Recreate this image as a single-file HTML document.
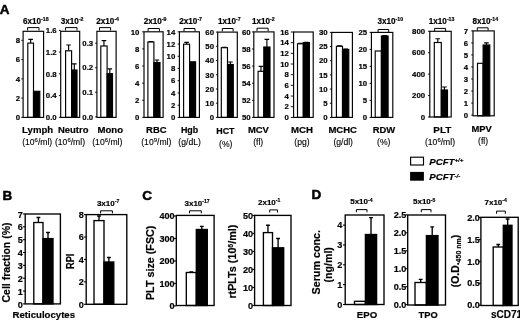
<!DOCTYPE html><html><head><meta charset="utf-8"><style>html,body{margin:0;padding:0;background:#fff;overflow:hidden}svg{display:block;will-change:transform}</style></head><body>
<svg width="520" height="320" viewBox="0 0 520 320" font-family="Liberation Sans, sans-serif" fill="#000">
<rect width="520" height="320" fill="#fff"/>
<path d="M30.65 43.1V39.4M28.35 39.4H32.95" stroke="#000" stroke-width="1.15" fill="none"/>
<rect x="27.8" y="43.1" width="5.70" height="74.30" fill="#fff" stroke="#000" stroke-width="1.15"/>
<rect x="33.5" y="91.3" width="6.30" height="26.10" fill="#000" stroke="#000" stroke-width="1.15"/>
<rect x="23.1" y="31.3" width="20.50" height="86.10" fill="none" stroke="#000" stroke-width="1.15"/>
<path d="M21.30 117.40H23.1" stroke="#000" stroke-width="0.92"/>
<text x="20.00" y="120.15" font-size="7.8" font-weight="bold" text-anchor="end" stroke="#000" stroke-width="0.18" >0</text>
<path d="M21.30 98.12H23.1" stroke="#000" stroke-width="0.92"/>
<text x="20.00" y="100.88" font-size="7.8" font-weight="bold" text-anchor="end" stroke="#000" stroke-width="0.18" >2</text>
<path d="M21.30 78.85H23.1" stroke="#000" stroke-width="0.92"/>
<text x="20.00" y="81.60" font-size="7.8" font-weight="bold" text-anchor="end" stroke="#000" stroke-width="0.18" >4</text>
<path d="M21.30 59.58H23.1" stroke="#000" stroke-width="0.92"/>
<text x="20.00" y="62.33" font-size="7.8" font-weight="bold" text-anchor="end" stroke="#000" stroke-width="0.18" >6</text>
<path d="M21.30 40.30H23.1" stroke="#000" stroke-width="0.92"/>
<text x="20.00" y="43.05" font-size="7.8" font-weight="bold" text-anchor="end" stroke="#000" stroke-width="0.18" >8</text>
<path d="M68.60 50.8V45M66.30 45H70.90" stroke="#000" stroke-width="1.15" fill="none"/>
<rect x="65.6" y="50.8" width="6.00" height="66.60" fill="#fff" stroke="#000" stroke-width="1.15"/>
<path d="M74.30 70V63.8M72.00 63.8H76.60" stroke="#000" stroke-width="1.15" fill="none"/>
<rect x="71.6" y="70" width="5.40" height="47.40" fill="#000" stroke="#000" stroke-width="1.15"/>
<rect x="60.7" y="31.3" width="19.00" height="86.10" fill="none" stroke="#000" stroke-width="1.15"/>
<path d="M58.90 117.30H60.7" stroke="#000" stroke-width="0.92"/>
<text x="56.70" y="120.05" font-size="7.8" font-weight="bold" text-anchor="end" stroke="#000" stroke-width="0.18" >0.0</text>
<path d="M58.90 95.57H60.7" stroke="#000" stroke-width="0.92"/>
<text x="56.70" y="98.32" font-size="7.8" font-weight="bold" text-anchor="end" stroke="#000" stroke-width="0.18" >0.4</text>
<path d="M58.90 73.85H60.7" stroke="#000" stroke-width="0.92"/>
<text x="56.70" y="76.60" font-size="7.8" font-weight="bold" text-anchor="end" stroke="#000" stroke-width="0.18" >0.8</text>
<path d="M58.90 52.12H60.7" stroke="#000" stroke-width="0.92"/>
<text x="56.70" y="54.88" font-size="7.8" font-weight="bold" text-anchor="end" stroke="#000" stroke-width="0.18" >1.2</text>
<path d="M58.90 30.40H60.7" stroke="#000" stroke-width="0.92"/>
<text x="56.70" y="33.15" font-size="7.8" font-weight="bold" text-anchor="end" stroke="#000" stroke-width="0.18" >1.6</text>
<path d="M103.95 46V40.6M101.65 40.6H106.25" stroke="#000" stroke-width="1.15" fill="none"/>
<rect x="100.8" y="46" width="6.30" height="71.40" fill="#fff" stroke="#000" stroke-width="1.15"/>
<path d="M109.80 73.7V68.8M107.50 68.8H112.10" stroke="#000" stroke-width="1.15" fill="none"/>
<rect x="107.1" y="73.7" width="5.40" height="43.70" fill="#000" stroke="#000" stroke-width="1.15"/>
<rect x="96.9" y="31.3" width="19.20" height="86.10" fill="none" stroke="#000" stroke-width="1.15"/>
<path d="M95.10 116.80H96.9" stroke="#000" stroke-width="0.92"/>
<text x="93.20" y="119.55" font-size="7.8" font-weight="bold" text-anchor="end" stroke="#000" stroke-width="0.18" >0.0</text>
<path d="M95.10 92.27H96.9" stroke="#000" stroke-width="0.92"/>
<text x="93.20" y="95.02" font-size="7.8" font-weight="bold" text-anchor="end" stroke="#000" stroke-width="0.18" >0.1</text>
<path d="M95.10 67.73H96.9" stroke="#000" stroke-width="0.92"/>
<text x="93.20" y="70.48" font-size="7.8" font-weight="bold" text-anchor="end" stroke="#000" stroke-width="0.18" >0.2</text>
<path d="M95.10 43.20H96.9" stroke="#000" stroke-width="0.92"/>
<text x="93.20" y="45.95" font-size="7.8" font-weight="bold" text-anchor="end" stroke="#000" stroke-width="0.18" >0.3</text>
<path d="M150.90 42V41.6M148.60 41.6H153.20" stroke="#000" stroke-width="1.15" fill="none"/>
<rect x="147.9" y="42" width="6.00" height="75.40" fill="#fff" stroke="#000" stroke-width="1.15"/>
<path d="M156.95 62.5V60M154.65 60H159.25" stroke="#000" stroke-width="1.15" fill="none"/>
<rect x="153.9" y="62.5" width="6.10" height="54.90" fill="#000" stroke="#000" stroke-width="1.15"/>
<rect x="144" y="31.8" width="19.10" height="85.60" fill="none" stroke="#000" stroke-width="1.15"/>
<path d="M142.20 117.40H144" stroke="#000" stroke-width="0.92"/>
<text x="139.40" y="120.15" font-size="7.8" font-weight="bold" text-anchor="end" stroke="#000" stroke-width="0.18" >0</text>
<path d="M142.20 100.28H144" stroke="#000" stroke-width="0.92"/>
<text x="139.40" y="103.03" font-size="7.8" font-weight="bold" text-anchor="end" stroke="#000" stroke-width="0.18" >2</text>
<path d="M142.20 83.16H144" stroke="#000" stroke-width="0.92"/>
<text x="139.40" y="85.91" font-size="7.8" font-weight="bold" text-anchor="end" stroke="#000" stroke-width="0.18" >4</text>
<path d="M142.20 66.04H144" stroke="#000" stroke-width="0.92"/>
<text x="139.40" y="68.79" font-size="7.8" font-weight="bold" text-anchor="end" stroke="#000" stroke-width="0.18" >6</text>
<path d="M142.20 48.92H144" stroke="#000" stroke-width="0.92"/>
<text x="139.40" y="51.67" font-size="7.8" font-weight="bold" text-anchor="end" stroke="#000" stroke-width="0.18" >8</text>
<path d="M142.20 31.80H144" stroke="#000" stroke-width="0.92"/>
<text x="139.40" y="34.55" font-size="7.8" font-weight="bold" text-anchor="end" stroke="#000" stroke-width="0.18" >10</text>
<path d="M186.60 44.2V42.3M184.30 42.3H188.90" stroke="#000" stroke-width="1.15" fill="none"/>
<rect x="183.6" y="44.2" width="6.00" height="73.20" fill="#fff" stroke="#000" stroke-width="1.15"/>
<rect x="189.6" y="61.8" width="6.00" height="55.60" fill="#000" stroke="#000" stroke-width="1.15"/>
<rect x="179.4" y="31.8" width="20.00" height="85.60" fill="none" stroke="#000" stroke-width="1.15"/>
<path d="M177.60 117.40H179.4" stroke="#000" stroke-width="0.92"/>
<text x="175.30" y="120.15" font-size="7.8" font-weight="bold" text-anchor="end" stroke="#000" stroke-width="0.18" >0</text>
<path d="M177.60 105.17H179.4" stroke="#000" stroke-width="0.92"/>
<text x="175.30" y="107.92" font-size="7.8" font-weight="bold" text-anchor="end" stroke="#000" stroke-width="0.18" >2</text>
<path d="M177.60 92.94H179.4" stroke="#000" stroke-width="0.92"/>
<text x="175.30" y="95.69" font-size="7.8" font-weight="bold" text-anchor="end" stroke="#000" stroke-width="0.18" >4</text>
<path d="M177.60 80.71H179.4" stroke="#000" stroke-width="0.92"/>
<text x="175.30" y="83.46" font-size="7.8" font-weight="bold" text-anchor="end" stroke="#000" stroke-width="0.18" >6</text>
<path d="M177.60 68.49H179.4" stroke="#000" stroke-width="0.92"/>
<text x="175.30" y="71.24" font-size="7.8" font-weight="bold" text-anchor="end" stroke="#000" stroke-width="0.18" >8</text>
<path d="M177.60 56.26H179.4" stroke="#000" stroke-width="0.92"/>
<text x="175.30" y="59.01" font-size="7.8" font-weight="bold" text-anchor="end" stroke="#000" stroke-width="0.18" >10</text>
<path d="M177.60 44.03H179.4" stroke="#000" stroke-width="0.92"/>
<text x="175.30" y="46.78" font-size="7.8" font-weight="bold" text-anchor="end" stroke="#000" stroke-width="0.18" >12</text>
<path d="M177.60 31.80H179.4" stroke="#000" stroke-width="0.92"/>
<text x="175.30" y="34.55" font-size="7.8" font-weight="bold" text-anchor="end" stroke="#000" stroke-width="0.18" >14</text>
<path d="M224.40 47.7V47.3M222.10 47.3H226.70" stroke="#000" stroke-width="1.15" fill="none"/>
<rect x="221.3" y="47.7" width="6.20" height="69.70" fill="#fff" stroke="#000" stroke-width="1.15"/>
<path d="M230.40 64.5V62M228.10 62H232.70" stroke="#000" stroke-width="1.15" fill="none"/>
<rect x="227.5" y="64.5" width="5.80" height="52.90" fill="#000" stroke="#000" stroke-width="1.15"/>
<rect x="217.7" y="32.1" width="19.60" height="85.30" fill="none" stroke="#000" stroke-width="1.15"/>
<path d="M215.90 117.40H217.7" stroke="#000" stroke-width="0.92"/>
<text x="214.00" y="120.15" font-size="7.8" font-weight="bold" text-anchor="end" stroke="#000" stroke-width="0.18" >0</text>
<path d="M215.90 103.18H217.7" stroke="#000" stroke-width="0.92"/>
<text x="214.00" y="105.93" font-size="7.8" font-weight="bold" text-anchor="end" stroke="#000" stroke-width="0.18" >10</text>
<path d="M215.90 88.97H217.7" stroke="#000" stroke-width="0.92"/>
<text x="214.00" y="91.72" font-size="7.8" font-weight="bold" text-anchor="end" stroke="#000" stroke-width="0.18" >20</text>
<path d="M215.90 74.75H217.7" stroke="#000" stroke-width="0.92"/>
<text x="214.00" y="77.50" font-size="7.8" font-weight="bold" text-anchor="end" stroke="#000" stroke-width="0.18" >30</text>
<path d="M215.90 60.53H217.7" stroke="#000" stroke-width="0.92"/>
<text x="214.00" y="63.28" font-size="7.8" font-weight="bold" text-anchor="end" stroke="#000" stroke-width="0.18" >40</text>
<path d="M215.90 46.32H217.7" stroke="#000" stroke-width="0.92"/>
<text x="214.00" y="49.07" font-size="7.8" font-weight="bold" text-anchor="end" stroke="#000" stroke-width="0.18" >50</text>
<path d="M215.90 32.10H217.7" stroke="#000" stroke-width="0.92"/>
<text x="214.00" y="34.85" font-size="7.8" font-weight="bold" text-anchor="end" stroke="#000" stroke-width="0.18" >60</text>
<path d="M260.95 71.3V66.3M258.65 66.3H263.25" stroke="#000" stroke-width="1.15" fill="none"/>
<rect x="258.1" y="71.3" width="5.70" height="46.10" fill="#fff" stroke="#000" stroke-width="1.15"/>
<path d="M266.90 47V39.4M264.60 39.4H269.20" stroke="#000" stroke-width="1.15" fill="none"/>
<rect x="263.8" y="47" width="6.20" height="70.40" fill="#000" stroke="#000" stroke-width="1.15"/>
<rect x="253.8" y="31.9" width="20.20" height="85.50" fill="none" stroke="#000" stroke-width="1.15"/>
<path d="M252.00 117.40H253.8" stroke="#000" stroke-width="0.92"/>
<text x="250.60" y="120.15" font-size="7.8" font-weight="bold" text-anchor="end" stroke="#000" stroke-width="0.18" >50</text>
<path d="M252.00 100.30H253.8" stroke="#000" stroke-width="0.92"/>
<text x="250.60" y="103.05" font-size="7.8" font-weight="bold" text-anchor="end" stroke="#000" stroke-width="0.18" >52</text>
<path d="M252.00 83.20H253.8" stroke="#000" stroke-width="0.92"/>
<text x="250.60" y="85.95" font-size="7.8" font-weight="bold" text-anchor="end" stroke="#000" stroke-width="0.18" >54</text>
<path d="M252.00 66.10H253.8" stroke="#000" stroke-width="0.92"/>
<text x="250.60" y="68.85" font-size="7.8" font-weight="bold" text-anchor="end" stroke="#000" stroke-width="0.18" >56</text>
<path d="M252.00 49.00H253.8" stroke="#000" stroke-width="0.92"/>
<text x="250.60" y="51.75" font-size="7.8" font-weight="bold" text-anchor="end" stroke="#000" stroke-width="0.18" >58</text>
<path d="M252.00 31.90H253.8" stroke="#000" stroke-width="0.92"/>
<text x="250.60" y="34.65" font-size="7.8" font-weight="bold" text-anchor="end" stroke="#000" stroke-width="0.18" >60</text>
<path d="M300.40 43.8V43.4M298.10 43.4H302.70" stroke="#000" stroke-width="1.15" fill="none"/>
<rect x="297.5" y="43.8" width="5.80" height="73.60" fill="#fff" stroke="#000" stroke-width="1.15"/>
<path d="M306.35 42.6V42.2M304.05 42.2H308.65" stroke="#000" stroke-width="1.15" fill="none"/>
<rect x="303.3" y="42.6" width="6.10" height="74.80" fill="#000" stroke="#000" stroke-width="1.15"/>
<rect x="293.6" y="32" width="19.60" height="85.40" fill="none" stroke="#000" stroke-width="1.15"/>
<path d="M290.80 117.40H293.6" stroke="#000" stroke-width="0.92"/>
<text x="288.90" y="120.15" font-size="7.8" font-weight="bold" text-anchor="end" stroke="#000" stroke-width="0.18" >0</text>
<path d="M290.80 106.73H293.6" stroke="#000" stroke-width="0.92"/>
<text x="288.90" y="109.48" font-size="7.8" font-weight="bold" text-anchor="end" stroke="#000" stroke-width="0.18" >2</text>
<path d="M290.80 96.05H293.6" stroke="#000" stroke-width="0.92"/>
<text x="288.90" y="98.80" font-size="7.8" font-weight="bold" text-anchor="end" stroke="#000" stroke-width="0.18" >4</text>
<path d="M290.80 85.38H293.6" stroke="#000" stroke-width="0.92"/>
<text x="288.90" y="88.12" font-size="7.8" font-weight="bold" text-anchor="end" stroke="#000" stroke-width="0.18" >6</text>
<path d="M290.80 74.70H293.6" stroke="#000" stroke-width="0.92"/>
<text x="288.90" y="77.45" font-size="7.8" font-weight="bold" text-anchor="end" stroke="#000" stroke-width="0.18" >8</text>
<path d="M290.80 64.03H293.6" stroke="#000" stroke-width="0.92"/>
<text x="288.90" y="66.78" font-size="7.8" font-weight="bold" text-anchor="end" stroke="#000" stroke-width="0.18" >10</text>
<path d="M290.80 53.35H293.6" stroke="#000" stroke-width="0.92"/>
<text x="288.90" y="56.10" font-size="7.8" font-weight="bold" text-anchor="end" stroke="#000" stroke-width="0.18" >12</text>
<path d="M290.80 42.67H293.6" stroke="#000" stroke-width="0.92"/>
<text x="288.90" y="45.42" font-size="7.8" font-weight="bold" text-anchor="end" stroke="#000" stroke-width="0.18" >14</text>
<path d="M290.80 32.00H293.6" stroke="#000" stroke-width="0.92"/>
<text x="288.90" y="34.75" font-size="7.8" font-weight="bold" text-anchor="end" stroke="#000" stroke-width="0.18" >16</text>
<path d="M339.45 46.3V45.8M337.15 45.8H341.75" stroke="#000" stroke-width="1.15" fill="none"/>
<rect x="336.4" y="46.3" width="6.10" height="71.10" fill="#fff" stroke="#000" stroke-width="1.15"/>
<path d="M345.65 49.4V49M343.35 49H347.95" stroke="#000" stroke-width="1.15" fill="none"/>
<rect x="342.5" y="49.4" width="6.30" height="68.00" fill="#000" stroke="#000" stroke-width="1.15"/>
<rect x="331.7" y="32.4" width="20.70" height="85.00" fill="none" stroke="#000" stroke-width="1.15"/>
<path d="M329.90 117.40H331.7" stroke="#000" stroke-width="0.92"/>
<text x="327.60" y="120.15" font-size="7.8" font-weight="bold" text-anchor="end" stroke="#000" stroke-width="0.18" >0</text>
<path d="M329.90 103.23H331.7" stroke="#000" stroke-width="0.92"/>
<text x="327.60" y="105.98" font-size="7.8" font-weight="bold" text-anchor="end" stroke="#000" stroke-width="0.18" >5</text>
<path d="M329.90 89.07H331.7" stroke="#000" stroke-width="0.92"/>
<text x="327.60" y="91.82" font-size="7.8" font-weight="bold" text-anchor="end" stroke="#000" stroke-width="0.18" >10</text>
<path d="M329.90 74.90H331.7" stroke="#000" stroke-width="0.92"/>
<text x="327.60" y="77.65" font-size="7.8" font-weight="bold" text-anchor="end" stroke="#000" stroke-width="0.18" >15</text>
<path d="M329.90 60.73H331.7" stroke="#000" stroke-width="0.92"/>
<text x="327.60" y="63.48" font-size="7.8" font-weight="bold" text-anchor="end" stroke="#000" stroke-width="0.18" >20</text>
<path d="M329.90 46.57H331.7" stroke="#000" stroke-width="0.92"/>
<text x="327.60" y="49.32" font-size="7.8" font-weight="bold" text-anchor="end" stroke="#000" stroke-width="0.18" >25</text>
<path d="M329.90 32.40H331.7" stroke="#000" stroke-width="0.92"/>
<text x="327.60" y="35.15" font-size="7.8" font-weight="bold" text-anchor="end" stroke="#000" stroke-width="0.18" >30</text>
<rect x="375.2" y="51" width="6.20" height="66.40" fill="#fff" stroke="#000" stroke-width="1.15"/>
<path d="M384.75 36V35.6M382.45 35.6H387.05" stroke="#000" stroke-width="1.15" fill="none"/>
<rect x="381.4" y="36" width="6.70" height="81.40" fill="#000" stroke="#000" stroke-width="1.15"/>
<rect x="371.4" y="32.4" width="21.40" height="85.00" fill="none" stroke="#000" stroke-width="1.15"/>
<path d="M369.60 117.40H371.4" stroke="#000" stroke-width="0.92"/>
<text x="367.10" y="120.15" font-size="7.8" font-weight="bold" text-anchor="end" stroke="#000" stroke-width="0.18" >0</text>
<path d="M369.60 100.40H371.4" stroke="#000" stroke-width="0.92"/>
<text x="367.10" y="103.15" font-size="7.8" font-weight="bold" text-anchor="end" stroke="#000" stroke-width="0.18" >5</text>
<path d="M369.60 83.40H371.4" stroke="#000" stroke-width="0.92"/>
<text x="367.10" y="86.15" font-size="7.8" font-weight="bold" text-anchor="end" stroke="#000" stroke-width="0.18" >10</text>
<path d="M369.60 66.40H371.4" stroke="#000" stroke-width="0.92"/>
<text x="367.10" y="69.15" font-size="7.8" font-weight="bold" text-anchor="end" stroke="#000" stroke-width="0.18" >15</text>
<path d="M369.60 49.40H371.4" stroke="#000" stroke-width="0.92"/>
<text x="367.10" y="52.15" font-size="7.8" font-weight="bold" text-anchor="end" stroke="#000" stroke-width="0.18" >20</text>
<path d="M369.60 32.40H371.4" stroke="#000" stroke-width="0.92"/>
<text x="367.10" y="35.15" font-size="7.8" font-weight="bold" text-anchor="end" stroke="#000" stroke-width="0.18" >25</text>
<path d="M437.80 42.5V38.7M435.50 38.7H440.10" stroke="#000" stroke-width="1.15" fill="none"/>
<rect x="434.3" y="42.5" width="7.00" height="74.50" fill="#fff" stroke="#000" stroke-width="1.15"/>
<path d="M444.40 90V87M442.10 87H446.70" stroke="#000" stroke-width="1.15" fill="none"/>
<rect x="441.3" y="90" width="6.20" height="27.00" fill="#000" stroke="#000" stroke-width="1.15"/>
<rect x="429.8" y="31.3" width="21.40" height="85.70" fill="none" stroke="#000" stroke-width="1.15"/>
<path d="M428.00 117.00H429.8" stroke="#000" stroke-width="0.92"/>
<text x="425.10" y="119.75" font-size="7.8" font-weight="bold" text-anchor="end" stroke="#000" stroke-width="0.18" >0</text>
<path d="M428.00 95.58H429.8" stroke="#000" stroke-width="0.92"/>
<text x="425.10" y="98.33" font-size="7.8" font-weight="bold" text-anchor="end" stroke="#000" stroke-width="0.18" >200</text>
<path d="M428.00 74.15H429.8" stroke="#000" stroke-width="0.92"/>
<text x="425.10" y="76.90" font-size="7.8" font-weight="bold" text-anchor="end" stroke="#000" stroke-width="0.18" >400</text>
<path d="M428.00 52.72H429.8" stroke="#000" stroke-width="0.92"/>
<text x="425.10" y="55.47" font-size="7.8" font-weight="bold" text-anchor="end" stroke="#000" stroke-width="0.18" >600</text>
<path d="M428.00 31.30H429.8" stroke="#000" stroke-width="0.92"/>
<text x="425.10" y="34.05" font-size="7.8" font-weight="bold" text-anchor="end" stroke="#000" stroke-width="0.18" >800</text>
<rect x="477.5" y="63.3" width="5.60" height="52.50" fill="#fff" stroke="#000" stroke-width="1.15"/>
<path d="M486.45 45V42.9M484.15 42.9H488.75" stroke="#000" stroke-width="1.15" fill="none"/>
<rect x="483.1" y="45" width="6.70" height="70.80" fill="#000" stroke="#000" stroke-width="1.15"/>
<rect x="473" y="30.9" width="21.20" height="84.90" fill="none" stroke="#000" stroke-width="1.15"/>
<path d="M471.20 115.10H473" stroke="#000" stroke-width="0.92"/>
<text x="468.20" y="117.85" font-size="7.8" font-weight="bold" text-anchor="end" stroke="#000" stroke-width="0.18" >0</text>
<path d="M471.20 103.07H473" stroke="#000" stroke-width="0.92"/>
<text x="468.20" y="105.82" font-size="7.8" font-weight="bold" text-anchor="end" stroke="#000" stroke-width="0.18" >1</text>
<path d="M471.20 91.04H473" stroke="#000" stroke-width="0.92"/>
<text x="468.20" y="93.79" font-size="7.8" font-weight="bold" text-anchor="end" stroke="#000" stroke-width="0.18" >2</text>
<path d="M471.20 79.01H473" stroke="#000" stroke-width="0.92"/>
<text x="468.20" y="81.76" font-size="7.8" font-weight="bold" text-anchor="end" stroke="#000" stroke-width="0.18" >3</text>
<path d="M471.20 66.99H473" stroke="#000" stroke-width="0.92"/>
<text x="468.20" y="69.74" font-size="7.8" font-weight="bold" text-anchor="end" stroke="#000" stroke-width="0.18" >4</text>
<path d="M471.20 54.96H473" stroke="#000" stroke-width="0.92"/>
<text x="468.20" y="57.71" font-size="7.8" font-weight="bold" text-anchor="end" stroke="#000" stroke-width="0.18" >5</text>
<path d="M471.20 42.93H473" stroke="#000" stroke-width="0.92"/>
<text x="468.20" y="45.68" font-size="7.8" font-weight="bold" text-anchor="end" stroke="#000" stroke-width="0.18" >6</text>
<path d="M471.20 30.90H473" stroke="#000" stroke-width="0.92"/>
<text x="468.20" y="33.65" font-size="7.8" font-weight="bold" text-anchor="end" stroke="#000" stroke-width="0.18" >7</text>
<text x="23.00" y="23.80" font-size="8.15" font-weight="bold" text-anchor="start" stroke="#000" stroke-width="0.18" >6x10<tspan font-size="5.22" dy="-2.85">-18</tspan></text>
<path d="M27.6 30.5V27.6H39V30.5" stroke="#000" stroke-width="1" fill="none"/>
<text x="60.80" y="23.80" font-size="8.15" font-weight="bold" text-anchor="start" stroke="#000" stroke-width="0.18" >3x10<tspan font-size="5.22" dy="-2.85">-2</tspan></text>
<path d="M65.5 30.5V27.6H77V30.5" stroke="#000" stroke-width="1" fill="none"/>
<text x="96.30" y="23.80" font-size="8.15" font-weight="bold" text-anchor="start" stroke="#000" stroke-width="0.18" >2x10<tspan font-size="5.22" dy="-2.85">-4</tspan></text>
<path d="M99.5 30.5V27.6H110.6V30.5" stroke="#000" stroke-width="1" fill="none"/>
<text x="143.80" y="23.80" font-size="8.15" font-weight="bold" text-anchor="start" stroke="#000" stroke-width="0.18" >2x10<tspan font-size="5.22" dy="-2.85">-9</tspan></text>
<path d="M148.1 31.4V28.5H159.4V31.4" stroke="#000" stroke-width="1" fill="none"/>
<text x="179.30" y="23.80" font-size="8.15" font-weight="bold" text-anchor="start" stroke="#000" stroke-width="0.18" >2x10<tspan font-size="5.22" dy="-2.85">-7</tspan></text>
<path d="M184 31.4V28.5H195V31.4" stroke="#000" stroke-width="1" fill="none"/>
<text x="218.00" y="23.80" font-size="8.15" font-weight="bold" text-anchor="start" stroke="#000" stroke-width="0.18" >1x10<tspan font-size="5.22" dy="-2.85">-7</tspan></text>
<path d="M222.3 31.4V28.5H233.1V31.4" stroke="#000" stroke-width="1" fill="none"/>
<text x="252.00" y="23.80" font-size="8.15" font-weight="bold" text-anchor="start" stroke="#000" stroke-width="0.18" >1x10<tspan font-size="5.22" dy="-2.85">-2</tspan></text>
<path d="M257 31.099999999999998V28.2H268.1V31.099999999999998" stroke="#000" stroke-width="1" fill="none"/>
<text x="377.50" y="23.80" font-size="8.15" font-weight="bold" text-anchor="start" stroke="#000" stroke-width="0.18" >3x10<tspan font-size="5.22" dy="-2.85">-10</tspan></text>
<path d="M378.1 32.4V29.5H388.7V32.4" stroke="#000" stroke-width="1" fill="none"/>
<text x="428.80" y="23.80" font-size="8.15" font-weight="bold" text-anchor="start" stroke="#000" stroke-width="0.18" >1x10<tspan font-size="5.22" dy="-2.85">-13</tspan></text>
<path d="M434.6 31.299999999999997V28.4H445.6V31.299999999999997" stroke="#000" stroke-width="1" fill="none"/>
<text x="472.50" y="23.80" font-size="8.15" font-weight="bold" text-anchor="start" stroke="#000" stroke-width="0.18" >8x10<tspan font-size="5.22" dy="-2.85">-14</tspan></text>
<path d="M477.3 30.7V27.8H488.1V30.7" stroke="#000" stroke-width="1" fill="none"/>
<text x="37.60" y="132.80" font-size="9.4" font-weight="bold" text-anchor="middle" textLength="31" lengthAdjust="spacingAndGlyphs" stroke="#000" stroke-width="0.18" >Lymph</text>
<text x="73.20" y="132.80" font-size="9.4" font-weight="bold" text-anchor="middle" textLength="30.5" lengthAdjust="spacingAndGlyphs" stroke="#000" stroke-width="0.18" >Neutro</text>
<text x="110.30" y="132.80" font-size="9.4" font-weight="bold" text-anchor="middle" textLength="25.5" lengthAdjust="spacingAndGlyphs" stroke="#000" stroke-width="0.18" >Mono</text>
<text x="156.30" y="133.00" font-size="9.4" font-weight="bold" text-anchor="middle" textLength="20.5" lengthAdjust="spacingAndGlyphs" stroke="#000" stroke-width="0.18" >RBC</text>
<text x="189.60" y="133.00" font-size="9.4" font-weight="bold" text-anchor="middle" textLength="17.3" lengthAdjust="spacingAndGlyphs" stroke="#000" stroke-width="0.18" >Hgb</text>
<text x="225.40" y="134.10" font-size="9.4" font-weight="bold" text-anchor="middle" textLength="18.3" lengthAdjust="spacingAndGlyphs" stroke="#000" stroke-width="0.18" >HCT</text>
<text x="258.40" y="133.00" font-size="9.4" font-weight="bold" text-anchor="middle" textLength="21" lengthAdjust="spacingAndGlyphs" stroke="#000" stroke-width="0.18" >MCV</text>
<text x="302.00" y="133.00" font-size="9.4" font-weight="bold" text-anchor="middle" textLength="22" lengthAdjust="spacingAndGlyphs" stroke="#000" stroke-width="0.18" >MCH</text>
<text x="342.70" y="133.00" font-size="9.4" font-weight="bold" text-anchor="middle" textLength="28.6" lengthAdjust="spacingAndGlyphs" stroke="#000" stroke-width="0.18" >MCHC</text>
<text x="384.00" y="133.00" font-size="9.4" font-weight="bold" text-anchor="middle" textLength="22.5" lengthAdjust="spacingAndGlyphs" stroke="#000" stroke-width="0.18" >RDW</text>
<text x="442.30" y="133.00" font-size="9.4" font-weight="bold" text-anchor="middle" textLength="18" lengthAdjust="spacingAndGlyphs" stroke="#000" stroke-width="0.18" >PLT</text>
<text x="481.60" y="132.30" font-size="9.4" font-weight="bold" text-anchor="middle" textLength="20.4" lengthAdjust="spacingAndGlyphs" stroke="#000" stroke-width="0.18" >MPV</text>
<text x="37.20" y="144.90" font-size="8.6" font-weight="normal" text-anchor="middle" stroke="#000" stroke-width="0.12">(10<tspan font-size="6" dy="-2.6">6</tspan><tspan dy="2.6">/ml)</tspan></text>
<text x="70.00" y="144.90" font-size="8.6" font-weight="normal" text-anchor="middle" stroke="#000" stroke-width="0.12">(10<tspan font-size="6" dy="-2.6">6</tspan><tspan dy="2.6">/ml)</tspan></text>
<text x="107.30" y="144.90" font-size="8.6" font-weight="normal" text-anchor="middle" stroke="#000" stroke-width="0.12">(10<tspan font-size="6" dy="-2.6">6</tspan><tspan dy="2.6">/ml)</tspan></text>
<text x="156.30" y="144.90" font-size="8.6" font-weight="normal" text-anchor="middle" stroke="#000" stroke-width="0.12">(10<tspan font-size="6" dy="-2.6">9</tspan><tspan dy="2.6">/ml)</tspan></text>
<text x="189.60" y="144.90" font-size="8.6" font-weight="normal" text-anchor="middle" stroke="#000" stroke-width="0.12">(g/dL)</text>
<text x="225.80" y="146.80" font-size="8.6" font-weight="normal" text-anchor="middle" stroke="#000" stroke-width="0.12">(%)</text>
<text x="258.20" y="144.90" font-size="8.6" font-weight="normal" text-anchor="middle" stroke="#000" stroke-width="0.12">(fl)</text>
<text x="302.00" y="144.90" font-size="8.6" font-weight="normal" text-anchor="middle" stroke="#000" stroke-width="0.12">(pg)</text>
<text x="343.20" y="144.90" font-size="8.6" font-weight="normal" text-anchor="middle" stroke="#000" stroke-width="0.12">(g/dl)</text>
<text x="383.80" y="145.20" font-size="8.6" font-weight="normal" text-anchor="middle" stroke="#000" stroke-width="0.12">(%)</text>
<text x="440.00" y="144.70" font-size="8.6" font-weight="normal" text-anchor="middle" stroke="#000" stroke-width="0.12">(10<tspan font-size="6" dy="-2.6">6</tspan><tspan dy="2.6">/ml)</tspan></text>
<text x="483.10" y="144.30" font-size="8.6" font-weight="normal" text-anchor="middle" stroke="#000" stroke-width="0.12">(fl)</text>
<text x="-0.20" y="14.40" font-size="13.5" font-weight="bold" text-anchor="start" stroke="#000" stroke-width="0.5">A</text>
<text x="2.60" y="200.40" font-size="13.5" font-weight="bold" text-anchor="start" stroke="#000" stroke-width="0.5">B</text>
<text x="142.20" y="199.80" font-size="13.5" font-weight="bold" text-anchor="start" stroke="#000" stroke-width="0.5">C</text>
<text x="311.40" y="198.70" font-size="13.5" font-weight="bold" text-anchor="start" stroke="#000" stroke-width="0.5">D</text>
<rect x="410.6" y="157.2" width="12.9" height="7.8" fill="#fff" stroke="#000" stroke-width="1.15"/>
<rect x="410.1" y="171.9" width="13.8" height="8.8" fill="#000"/>
<text x="429.20" y="164.60" font-size="9.7" font-weight="bold" text-anchor="start" font-style="italic" stroke="#000" stroke-width="0.18" >PCFT<tspan font-size="6.2" dy="-2.4">+/+</tspan></text>
<text x="429.20" y="180.20" font-size="9.7" font-weight="bold" text-anchor="start" font-style="italic" stroke="#000" stroke-width="0.18" >PCFT<tspan font-size="6.2" dy="-2.4">-/-</tspan></text>
<path d="M38.40 222.5V217.5M36.50 217.5H40.30" stroke="#000" stroke-width="1.35" fill="none"/>
<rect x="33.8" y="222.5" width="9.20" height="81.40" fill="#fff" stroke="#000" stroke-width="1.35"/>
<path d="M48.00 238.6V232.5M46.10 232.5H49.90" stroke="#000" stroke-width="1.35" fill="none"/>
<rect x="43" y="238.6" width="10.00" height="65.30" fill="#000" stroke="#000" stroke-width="1.35"/>
<rect x="25.2" y="214" width="35.20" height="89.90" fill="none" stroke="#000" stroke-width="1.35"/>
<path d="M23.00 303.90H25.2" stroke="#000" stroke-width="1.08"/>
<text x="22.90" y="307.50" font-size="9.1" font-weight="bold" text-anchor="end" stroke="#000" stroke-width="0.18" >0</text>
<path d="M23.00 291.06H25.2" stroke="#000" stroke-width="1.08"/>
<text x="22.90" y="294.66" font-size="9.1" font-weight="bold" text-anchor="end" stroke="#000" stroke-width="0.18" >1</text>
<path d="M23.00 278.21H25.2" stroke="#000" stroke-width="1.08"/>
<text x="22.90" y="281.81" font-size="9.1" font-weight="bold" text-anchor="end" stroke="#000" stroke-width="0.18" >2</text>
<path d="M23.00 265.37H25.2" stroke="#000" stroke-width="1.08"/>
<text x="22.90" y="268.97" font-size="9.1" font-weight="bold" text-anchor="end" stroke="#000" stroke-width="0.18" >3</text>
<path d="M23.00 252.53H25.2" stroke="#000" stroke-width="1.08"/>
<text x="22.90" y="256.13" font-size="9.1" font-weight="bold" text-anchor="end" stroke="#000" stroke-width="0.18" >4</text>
<path d="M23.00 239.69H25.2" stroke="#000" stroke-width="1.08"/>
<text x="22.90" y="243.29" font-size="9.1" font-weight="bold" text-anchor="end" stroke="#000" stroke-width="0.18" >5</text>
<path d="M23.00 226.84H25.2" stroke="#000" stroke-width="1.08"/>
<text x="22.90" y="230.44" font-size="9.1" font-weight="bold" text-anchor="end" stroke="#000" stroke-width="0.18" >6</text>
<path d="M23.00 214.00H25.2" stroke="#000" stroke-width="1.08"/>
<text x="22.90" y="217.60" font-size="9.1" font-weight="bold" text-anchor="end" stroke="#000" stroke-width="0.18" >7</text>
<path d="M99.00 220.6V216M97.10 216H100.90" stroke="#000" stroke-width="1.35" fill="none"/>
<rect x="94" y="220.6" width="10.00" height="83.70" fill="#fff" stroke="#000" stroke-width="1.35"/>
<path d="M108.90 262V257.5M107.00 257.5H110.80" stroke="#000" stroke-width="1.35" fill="none"/>
<rect x="104" y="262" width="9.80" height="42.30" fill="#000" stroke="#000" stroke-width="1.35"/>
<rect x="86.2" y="214.6" width="40.60" height="89.70" fill="none" stroke="#000" stroke-width="1.35"/>
<path d="M84.00 304.30H86.2" stroke="#000" stroke-width="1.08"/>
<text x="83.80" y="307.60" font-size="9.1" font-weight="bold" text-anchor="end" stroke="#000" stroke-width="0.18" >0</text>
<path d="M84.00 281.88H86.2" stroke="#000" stroke-width="1.08"/>
<text x="83.80" y="285.18" font-size="9.1" font-weight="bold" text-anchor="end" stroke="#000" stroke-width="0.18" >2</text>
<path d="M84.00 259.45H86.2" stroke="#000" stroke-width="1.08"/>
<text x="83.80" y="262.75" font-size="9.1" font-weight="bold" text-anchor="end" stroke="#000" stroke-width="0.18" >4</text>
<path d="M84.00 237.03H86.2" stroke="#000" stroke-width="1.08"/>
<text x="83.80" y="240.33" font-size="9.1" font-weight="bold" text-anchor="end" stroke="#000" stroke-width="0.18" >6</text>
<path d="M84.00 214.60H86.2" stroke="#000" stroke-width="1.08"/>
<text x="83.80" y="217.90" font-size="9.1" font-weight="bold" text-anchor="end" stroke="#000" stroke-width="0.18" >8</text>
<path d="M191.30 272.5V271.8M189.40 271.8H193.20" stroke="#000" stroke-width="1.35" fill="none"/>
<rect x="186.3" y="272.5" width="10.00" height="33.00" fill="#fff" stroke="#000" stroke-width="1.35"/>
<path d="M201.80 229.5V226.3M199.90 226.3H203.70" stroke="#000" stroke-width="1.35" fill="none"/>
<rect x="196.3" y="229.5" width="11.00" height="76.00" fill="#000" stroke="#000" stroke-width="1.35"/>
<rect x="176.3" y="215.4" width="37.80" height="90.10" fill="none" stroke="#000" stroke-width="1.35"/>
<path d="M174.10 305.90H176.3" stroke="#000" stroke-width="1.08"/>
<text x="174.60" y="309.20" font-size="9.1" font-weight="bold" text-anchor="end" stroke="#000" stroke-width="0.18" >0</text>
<path d="M174.10 283.42H176.3" stroke="#000" stroke-width="1.08"/>
<text x="174.60" y="286.72" font-size="9.1" font-weight="bold" text-anchor="end" stroke="#000" stroke-width="0.18" >100</text>
<path d="M174.10 260.95H176.3" stroke="#000" stroke-width="1.08"/>
<text x="174.60" y="264.25" font-size="9.1" font-weight="bold" text-anchor="end" stroke="#000" stroke-width="0.18" >200</text>
<path d="M174.10 238.47H176.3" stroke="#000" stroke-width="1.08"/>
<text x="174.60" y="241.78" font-size="9.1" font-weight="bold" text-anchor="end" stroke="#000" stroke-width="0.18" >300</text>
<path d="M174.10 216.00H176.3" stroke="#000" stroke-width="1.08"/>
<text x="174.60" y="219.30" font-size="9.1" font-weight="bold" text-anchor="end" stroke="#000" stroke-width="0.18" >400</text>
<path d="M267.95 232.6V225.2M266.05 225.2H269.85" stroke="#000" stroke-width="1.35" fill="none"/>
<rect x="263.4" y="232.6" width="9.10" height="72.90" fill="#fff" stroke="#000" stroke-width="1.35"/>
<path d="M278.10 247.8V238.5M276.20 238.5H280.00" stroke="#000" stroke-width="1.35" fill="none"/>
<rect x="272.5" y="247.8" width="11.20" height="57.70" fill="#000" stroke="#000" stroke-width="1.35"/>
<rect x="254.6" y="215.4" width="36.40" height="90.10" fill="none" stroke="#000" stroke-width="1.35"/>
<path d="M252.40 305.50H254.6" stroke="#000" stroke-width="1.08"/>
<text x="253.00" y="308.80" font-size="9.1" font-weight="bold" text-anchor="end" stroke="#000" stroke-width="0.18" >0</text>
<path d="M252.40 287.48H254.6" stroke="#000" stroke-width="1.08"/>
<text x="253.00" y="290.78" font-size="9.1" font-weight="bold" text-anchor="end" stroke="#000" stroke-width="0.18" >10</text>
<path d="M252.40 269.46H254.6" stroke="#000" stroke-width="1.08"/>
<text x="253.00" y="272.76" font-size="9.1" font-weight="bold" text-anchor="end" stroke="#000" stroke-width="0.18" >20</text>
<path d="M252.40 251.44H254.6" stroke="#000" stroke-width="1.08"/>
<text x="253.00" y="254.74" font-size="9.1" font-weight="bold" text-anchor="end" stroke="#000" stroke-width="0.18" >30</text>
<path d="M252.40 233.42H254.6" stroke="#000" stroke-width="1.08"/>
<text x="253.00" y="236.72" font-size="9.1" font-weight="bold" text-anchor="end" stroke="#000" stroke-width="0.18" >40</text>
<path d="M252.40 215.40H254.6" stroke="#000" stroke-width="1.08"/>
<text x="253.00" y="218.70" font-size="9.1" font-weight="bold" text-anchor="end" stroke="#000" stroke-width="0.18" >50</text>
<rect x="354.5" y="301.3" width="10.90" height="3.20" fill="#fff" stroke="#000" stroke-width="1.35"/>
<path d="M371.00 234.5V217.6M369.10 217.6H372.90" stroke="#000" stroke-width="1.35" fill="none"/>
<rect x="365.4" y="234.5" width="11.20" height="70.00" fill="#000" stroke="#000" stroke-width="1.35"/>
<rect x="345.2" y="215" width="38.80" height="89.50" fill="none" stroke="#000" stroke-width="1.35"/>
<path d="M343.00 304.50H345.2" stroke="#000" stroke-width="1.08"/>
<text x="342.40" y="307.50" font-size="9.1" font-weight="bold" text-anchor="end" stroke="#000" stroke-width="0.18" >0</text>
<path d="M343.00 284.65H345.2" stroke="#000" stroke-width="1.08"/>
<text x="342.40" y="287.65" font-size="9.1" font-weight="bold" text-anchor="end" stroke="#000" stroke-width="0.18" >1</text>
<path d="M343.00 264.80H345.2" stroke="#000" stroke-width="1.08"/>
<text x="342.40" y="267.80" font-size="9.1" font-weight="bold" text-anchor="end" stroke="#000" stroke-width="0.18" >2</text>
<path d="M343.00 244.95H345.2" stroke="#000" stroke-width="1.08"/>
<text x="342.40" y="247.95" font-size="9.1" font-weight="bold" text-anchor="end" stroke="#000" stroke-width="0.18" >3</text>
<path d="M343.00 225.10H345.2" stroke="#000" stroke-width="1.08"/>
<text x="342.40" y="228.10" font-size="9.1" font-weight="bold" text-anchor="end" stroke="#000" stroke-width="0.18" >4</text>
<path d="M420.70 282.5V279.3M418.80 279.3H422.60" stroke="#000" stroke-width="1.35" fill="none"/>
<rect x="415" y="282.5" width="11.40" height="22.50" fill="#fff" stroke="#000" stroke-width="1.35"/>
<path d="M432.20 235.6V226.8M430.30 226.8H434.10" stroke="#000" stroke-width="1.35" fill="none"/>
<rect x="426.4" y="235.6" width="11.60" height="69.40" fill="#000" stroke="#000" stroke-width="1.35"/>
<rect x="407.7" y="215" width="37.80" height="90.00" fill="none" stroke="#000" stroke-width="1.35"/>
<path d="M405.50 304.60H407.7" stroke="#000" stroke-width="1.08"/>
<text x="406.30" y="307.80" font-size="9.1" font-weight="bold" text-anchor="end" stroke="#000" stroke-width="0.18" >0.0</text>
<path d="M405.50 286.66H407.7" stroke="#000" stroke-width="1.08"/>
<text x="406.30" y="289.86" font-size="9.1" font-weight="bold" text-anchor="end" stroke="#000" stroke-width="0.18" >0.5</text>
<path d="M405.50 268.72H407.7" stroke="#000" stroke-width="1.08"/>
<text x="406.30" y="271.92" font-size="9.1" font-weight="bold" text-anchor="end" stroke="#000" stroke-width="0.18" >1.0</text>
<path d="M405.50 250.78H407.7" stroke="#000" stroke-width="1.08"/>
<text x="406.30" y="253.98" font-size="9.1" font-weight="bold" text-anchor="end" stroke="#000" stroke-width="0.18" >1.5</text>
<path d="M405.50 232.84H407.7" stroke="#000" stroke-width="1.08"/>
<text x="406.30" y="236.04" font-size="9.1" font-weight="bold" text-anchor="end" stroke="#000" stroke-width="0.18" >2.0</text>
<path d="M405.50 214.90H407.7" stroke="#000" stroke-width="1.08"/>
<text x="406.30" y="218.10" font-size="9.1" font-weight="bold" text-anchor="end" stroke="#000" stroke-width="0.18" >2.5</text>
<path d="M498.25 247V244.5M496.35 244.5H500.15" stroke="#000" stroke-width="1.35" fill="none"/>
<rect x="493.2" y="247" width="10.10" height="58.50" fill="#fff" stroke="#000" stroke-width="1.35"/>
<path d="M507.65 225.3V219M505.75 219H509.55" stroke="#000" stroke-width="1.35" fill="none"/>
<rect x="503.3" y="225.3" width="8.70" height="80.20" fill="#000" stroke="#000" stroke-width="1.35"/>
<rect x="480.9" y="217.3" width="37.30" height="88.20" fill="none" stroke="#000" stroke-width="1.35"/>
<path d="M478.70 305.20H480.9" stroke="#000" stroke-width="1.08"/>
<text x="479.80" y="308.40" font-size="9.1" font-weight="bold" text-anchor="end" stroke="#000" stroke-width="0.18" >0.0</text>
<path d="M478.70 283.27H480.9" stroke="#000" stroke-width="1.08"/>
<text x="479.80" y="286.47" font-size="9.1" font-weight="bold" text-anchor="end" stroke="#000" stroke-width="0.18" >0.5</text>
<path d="M478.70 261.35H480.9" stroke="#000" stroke-width="1.08"/>
<text x="479.80" y="264.55" font-size="9.1" font-weight="bold" text-anchor="end" stroke="#000" stroke-width="0.18" >1.0</text>
<path d="M478.70 239.43H480.9" stroke="#000" stroke-width="1.08"/>
<text x="479.80" y="242.62" font-size="9.1" font-weight="bold" text-anchor="end" stroke="#000" stroke-width="0.18" >1.5</text>
<path d="M478.70 217.50H480.9" stroke="#000" stroke-width="1.08"/>
<text x="479.80" y="220.70" font-size="9.1" font-weight="bold" text-anchor="end" stroke="#000" stroke-width="0.18" >2.0</text>
<text x="96.90" y="205.70" font-size="8" font-weight="bold" text-anchor="start" stroke="#000" stroke-width="0.18" >3x10<tspan font-size="5.12" dy="-2.8">-7</tspan></text>
<path d="M100.6 213.4V210.8H112.4V213.4" stroke="#000" stroke-width="1" fill="none"/>
<text x="184.50" y="205.90" font-size="8" font-weight="bold" text-anchor="start" stroke="#000" stroke-width="0.18" >3x10<tspan font-size="5.12" dy="-2.8">-17</tspan></text>
<path d="M189.5 213.3V210.8H201.3V213.3" stroke="#000" stroke-width="1" fill="none"/>
<text x="258.00" y="204.60" font-size="8" font-weight="bold" text-anchor="start" stroke="#000" stroke-width="0.18" >2x10<tspan font-size="5.12" dy="-2.8">-1</tspan></text>
<path d="M269.7 212.5V209.9H277.5V212.5" stroke="#000" stroke-width="1" fill="none"/>
<text x="350.20" y="204.30" font-size="8" font-weight="bold" text-anchor="start" stroke="#000" stroke-width="0.18" >5x10<tspan font-size="5.12" dy="-2.8">-4</tspan></text>
<path d="M356.4 212.2V209.6H367V212.2" stroke="#000" stroke-width="1" fill="none"/>
<text x="413.00" y="204.30" font-size="8" font-weight="bold" text-anchor="start" stroke="#000" stroke-width="0.18" >5x10<tspan font-size="5.12" dy="-2.8">-5</tspan></text>
<path d="M421.3 212.2V209.6H431V212.2" stroke="#000" stroke-width="1" fill="none"/>
<text x="484.50" y="204.60" font-size="8" font-weight="bold" text-anchor="start" stroke="#000" stroke-width="0.18" >7x10<tspan font-size="5.12" dy="-2.8">-4</tspan></text>
<path d="M496.6 213.8V211.1H505.3V213.8" stroke="#000" stroke-width="1" fill="none"/>
<text transform="translate(9.9 262.5) rotate(-90)" font-size="10.6" font-weight="bold" text-anchor="middle" stroke="#000" stroke-width="0.18" textLength="80" lengthAdjust="spacingAndGlyphs">Cell fraction (%)</text>
<text transform="translate(73.6 261.3) rotate(-90)" font-size="10" font-weight="bold" text-anchor="middle" stroke="#000" stroke-width="0.18" textLength="15.3" lengthAdjust="spacingAndGlyphs">RPI</text>
<text transform="translate(153.8 262.8) rotate(-90)" font-size="10.4" font-weight="bold" text-anchor="middle" stroke="#000" stroke-width="0.18" textLength="74.5" lengthAdjust="spacingAndGlyphs">PLT size (FSC)</text>
<text transform="translate(236.3 261.6) rotate(-90)" font-size="10.4" font-weight="bold" text-anchor="middle" stroke="#000" stroke-width="0.18" textLength="74" lengthAdjust="spacingAndGlyphs">rtPLTs (10<tspan font-size="6.8" dy="-3.2">6</tspan><tspan dy="3.2">/ml)</tspan></text>
<text transform="translate(320 262.2) rotate(-90)" font-size="10.6" font-weight="bold" text-anchor="middle" stroke="#000" stroke-width="0.18" textLength="64.5" lengthAdjust="spacingAndGlyphs">Serum conc.</text>
<text transform="translate(331.6 264.8) rotate(-90)" font-size="10.6" font-weight="bold" text-anchor="middle" stroke="#000" stroke-width="0.18" textLength="35.3" lengthAdjust="spacingAndGlyphs">(ng/ml)</text>
<text transform="translate(459 261) rotate(-90)" font-size="10.4" font-weight="bold" text-anchor="middle" stroke="#000" stroke-width="0.18">(O.D.<tspan font-size="7" dy="2">450 nm</tspan><tspan dy="-2" font-size="10.4">)</tspan></text>
<text x="43.80" y="317.60" font-size="9.8" font-weight="bold" text-anchor="middle" textLength="62.5" lengthAdjust="spacingAndGlyphs" stroke="#000" stroke-width="0.18" >Reticulocytes</text>
<text x="367.00" y="317.60" font-size="9.8" font-weight="bold" text-anchor="middle" textLength="20.5" lengthAdjust="spacingAndGlyphs" stroke="#000" stroke-width="0.18" >EPO</text>
<text x="428.10" y="317.60" font-size="9.8" font-weight="bold" text-anchor="middle" textLength="19.2" lengthAdjust="spacingAndGlyphs" stroke="#000" stroke-width="0.18" >TPO</text>
<text x="491.00" y="318.00" font-size="10" font-weight="bold" text-anchor="start" stroke="#000" stroke-width="0.18" >sCD71</text>
</svg></body></html>
